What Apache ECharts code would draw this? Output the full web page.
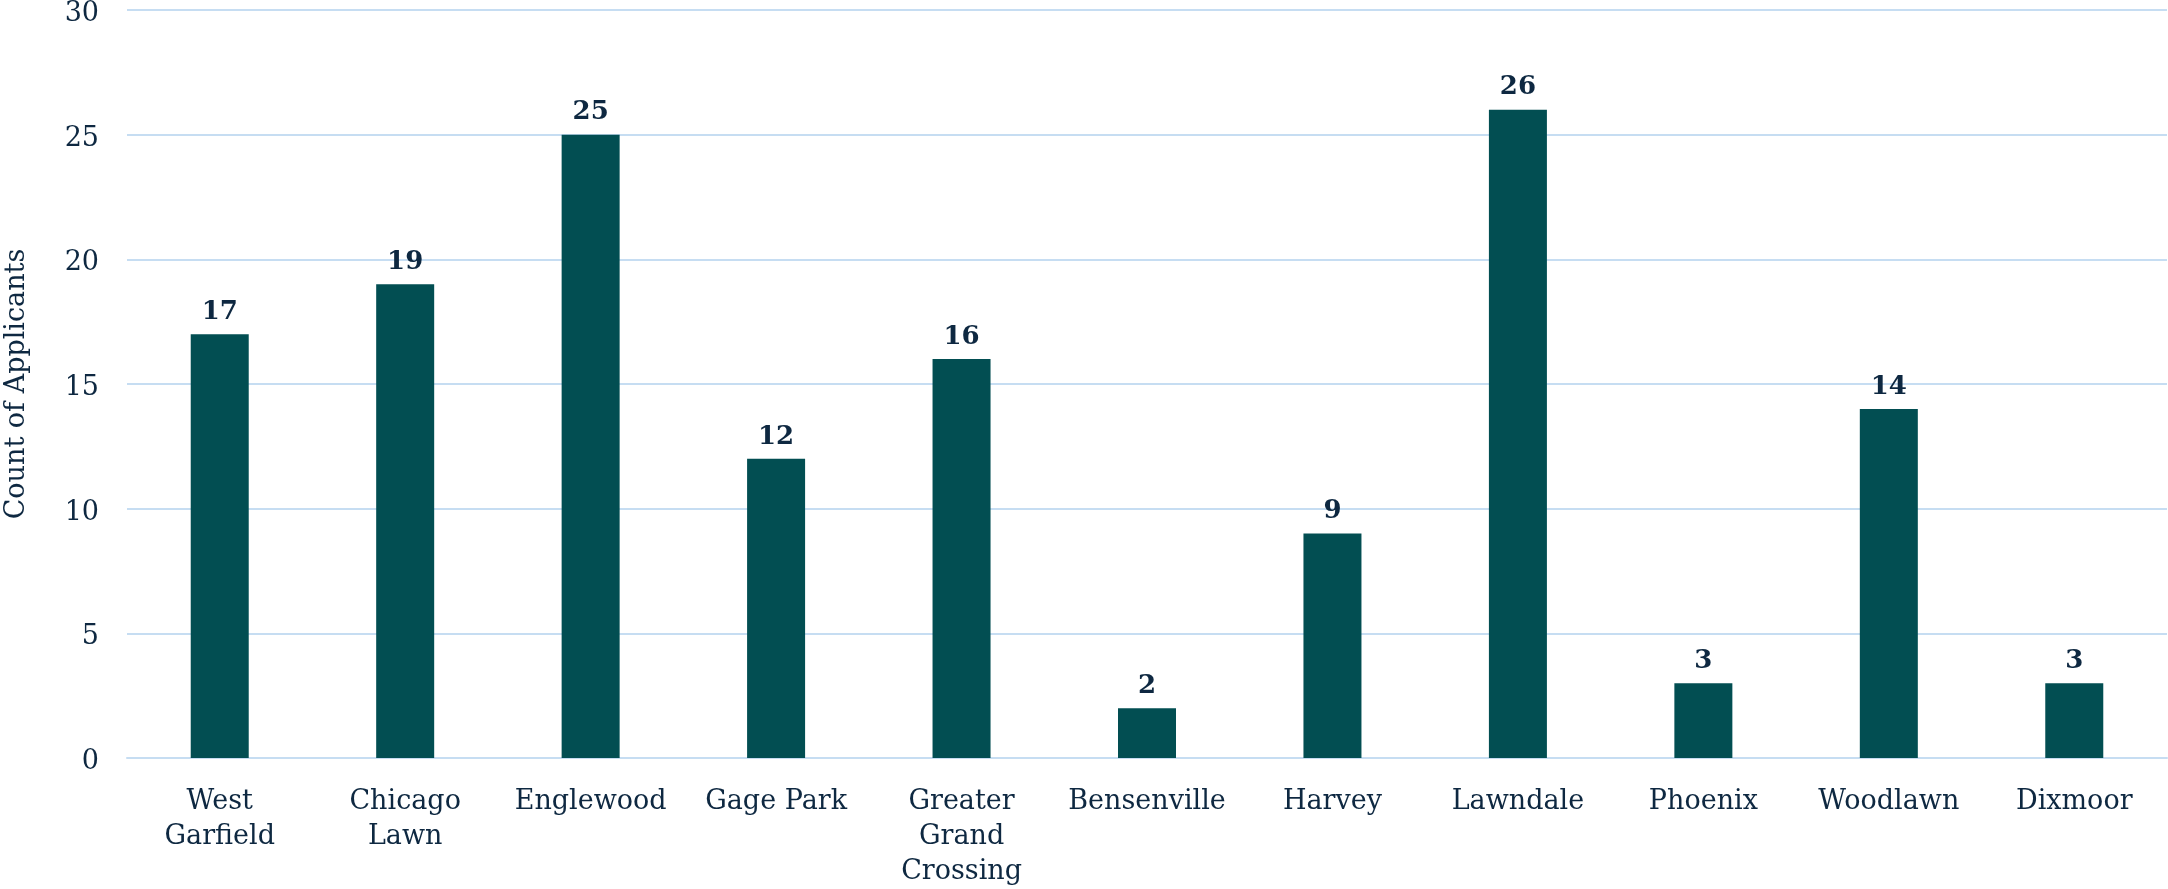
<!DOCTYPE html>
<html>
<head>
<meta charset="utf-8">
<style>
html,body{margin:0;padding:0;background:#fff;}
#chart{width:2168px;height:889px;}
</style>
<script src="https://cdn.jsdelivr.net/npm/echarts@6/dist/echarts.min.js"></script>
</head>
<body>
<div id="chart"></div>
<script>
const categories = ["West\nGarfield", "Chicago\nLawn", "Englewood", "Gage Park", "Greater\nGrand\nCrossing", "Bensenville", "Harvey", "Lawndale", "Phoenix", "Woodlawn", "Dixmoor"];
const applicants = [17, 19, 25, 12, 16, 2, 9, 26, 3, 14, 3];
const yTicks = { min: 0, max: 30, interval: 5 };
const yAxisName = "Count of Applicants";

const FONT = "DejaVu Serif";
const TEXT = "#0e2841";
const GRID = "#c6ddf2";
const BAR = "#024e52";

const chart = echarts.init(document.getElementById('chart'), null, { renderer: 'canvas' });
chart.setOption({
  animation: false,
  backgroundColor: '#ffffff',
  grid: { left: 127, right: 1, top: 10, bottom: 131, containLabel: false, outerBoundsMode: 'none' },
  xAxis: {
    type: 'category',
    data: categories,
    axisLine: { show: true, lineStyle: { color: GRID, width: 2 } },
    axisTick: { show: false },
    axisLabel: {
      interval: 0, color: TEXT, fontFamily: FONT, fontSize: 27, lineHeight: 35, margin: 26
    }
  },
  yAxis: {
    type: 'value',
    min: yTicks.min, max: yTicks.max, interval: yTicks.interval,
    name: yAxisName,
    nameLocation: 'middle',
    nameGap: 97,
    nameRotate: 90,
    nameTextStyle: { color: TEXT, fontFamily: FONT, fontSize: 27 },
    axisLine: { show: false },
    axisTick: { show: false },
    axisLabel: { color: TEXT, fontFamily: FONT, fontSize: 27, margin: 28, verticalAlign: 'top', lineHeight: 8 },
    splitLine: { show: true, lineStyle: { color: GRID, width: 2 } }
  },
  series: [{
    type: 'bar',
    data: applicants,
    barWidth: 58,
    itemStyle: { color: BAR },
    label: {
      show: true, position: 'top', distance: 9,
      color: TEXT, fontFamily: FONT, fontWeight: 'bold', fontSize: 26
    }
  }]
});
</script>
</body>
</html>
